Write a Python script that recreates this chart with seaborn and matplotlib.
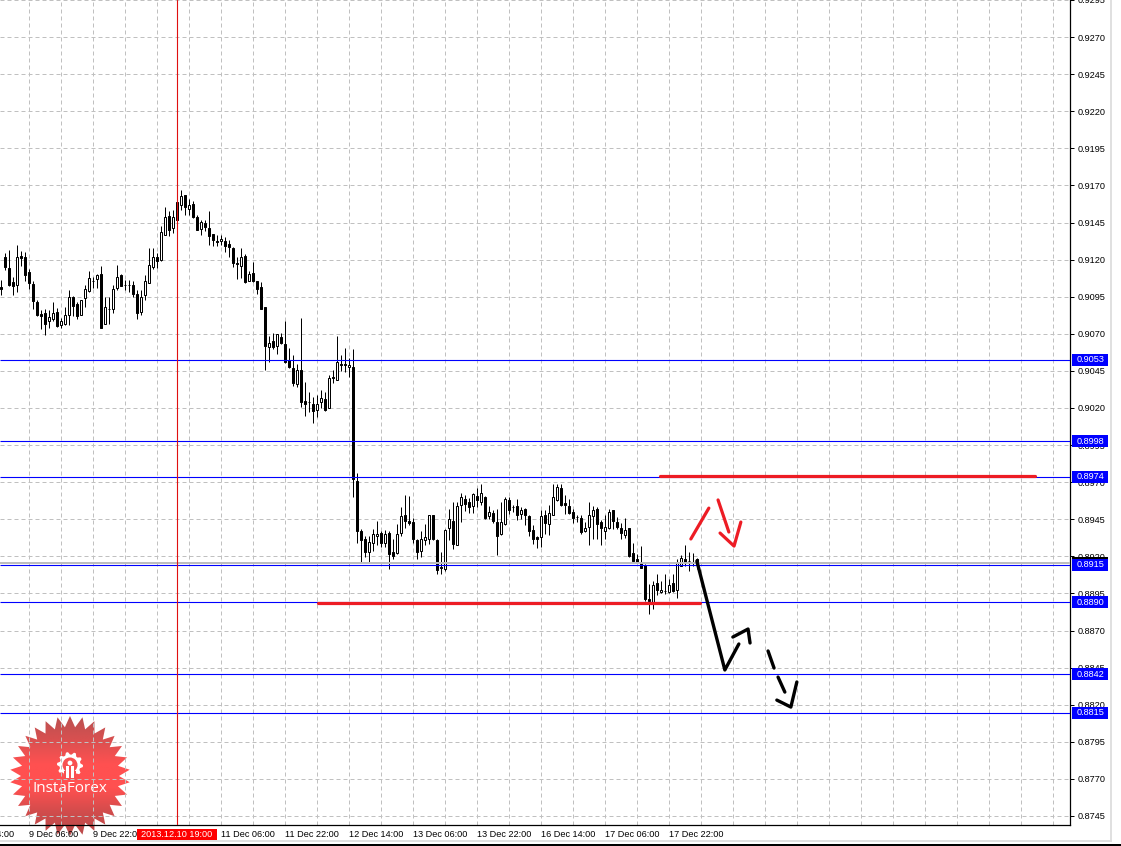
import numpy as np
import pandas as pd
import seaborn as sns
import matplotlib.pyplot as plt
from matplotlib.colors import LinearSegmentedColormap
from matplotlib.patches import Polygon, Circle, Rectangle

# hourly candles, prices in points (1e-5)
highs = [91064, 91244, 91266, 91082, 91296, 91257, 91250, 91134, 91057, 90929, 90861, 90868, 90861, 90913, 90873,
         90805, 90884, 90994, 90954, 90913, 90929, 91026, 91120, 91086, 91102, 91154, 90947, 90951, 91030, 91161,
         91102, 91064, 91064, 91059, 90996, 90994, 91098, 91278, 91278, 91244, 91424, 91554, 91530, 91532, 91593,
         91667, 91638, 91608, 91597, 91503, 91469, 91469, 91525, 91372, 91368, 91368, 91350, 91334, 91284, 91221,
         91278, 91237, 91120, 91183, 91055, 91048, 90884, 90684, 90704, 90702, 90704, 90783, 90603, 90558, 90494,
         90805, 90373, 90306, 90276, 90288, 90324, 90310, 90423, 90459, 90684, 90558, 90603, 90540, 90600, 89764,
         89381, 89340, 89336, 89386, 89437, 89368, 89375, 89370, 89318, 89419, 89532, 89611, 89606, 89460, 89318,
         89374, 89417, 89478, 89478, 89318, 89228, 89383, 89521, 89566, 89566, 89626, 89611, 89593, 89629, 89662,
         89685, 89606, 89539, 89509, 89516, 89566, 89597, 89599, 89543, 89588, 89532, 89525, 89476, 89408, 89340,
         89509, 89509, 89543, 89685, 89689, 89685, 89611, 89588, 89521, 89476, 89476, 89431, 89566, 89536, 89532,
         89442, 89476, 89516, 89514, 89464, 89426, 89458, 89392, 89291, 89217, 89269, 89145, 89014, 89037, 89082,
         89037, 89082, 89048, 89082, 89183, 89206, 89278, 89228, 89224, 89188]
lows = [90962, 91131, 91019, 90962, 90981, 91158, 91057, 91003, 90868, 90823, 90733, 90692, 90738, 90787, 90744,
        90738, 90756, 90760, 90823, 90800, 90828, 90879, 90981, 91008, 91008, 90738, 90767, 90767, 90839, 90996,
        91019, 90996, 90985, 90945, 90800, 90828, 90929, 91041, 91138, 91143, 91192, 91363, 91361, 91379, 91469,
        91536, 91503, 91503, 91482, 91401, 91368, 91390, 91296, 91291, 91291, 91298, 91251, 91217, 91147, 91071,
        91075, 91044, 91053, 91048, 90967, 90868, 90456, 90508, 90598, 90567, 90630, 90506, 90472, 90351, 90339,
        90207, 90146, 90175, 90101, 90139, 90198, 90180, 90198, 90371, 90389, 90450, 90441, 90411, 89597, 89291,
        89160, 89197, 89160, 89233, 89273, 89264, 89264, 89116, 89183, 89217, 89340, 89390, 89408, 89291, 89179,
        89194, 89273, 89284, 89309, 89082, 89082, 89102, 89307, 89251, 89273, 89431, 89507, 89489, 89494, 89534,
        89543, 89453, 89453, 89426, 89206, 89345, 89413, 89487, 89498, 89446, 89453, 89408, 89340, 89284, 89255,
        89262, 89352, 89347, 89476, 89572, 89538, 89487, 89487, 89426, 89431, 89352, 89363, 89273, 89314, 89318,
        89273, 89318, 89386, 89386, 89386, 89318, 89323, 89197, 89160, 89156, 89120, 88902, 88814, 88846, 88936,
        88954, 88947, 88954, 88958, 88922, 89134, 89138, 89098, 89138, 89116]
opens = [91014, 91215, 91142, 91048, 91030, 91224, 91217, 91116, 91035, 90913, 90832, 90843, 90783, 90803, 90850,
         90760, 90767, 90828, 90951, 90904, 90830, 90942, 90990, 91059, 91071, 91102, 90769, 90870, 90864, 91012,
         91093, 91032, 91030, 91028, 90965, 90848, 90963, 91044, 91149, 91219, 91199, 91368, 91491, 91410, 91586,
         91570, 91633, 91543, 91572, 91487, 91408, 91444, 91413, 91370, 91325, 91323, 91325, 91305, 91278, 91174,
         91158, 91224, 91059, 91113, 91053, 91014, 90884, 90612, 90654, 90621, 90681, 90634, 90522, 90472, 90362,
         90459, 90249, 90243, 90229, 90189, 90240, 90263, 90202, 90411, 90389, 90499, 90499, 90477, 90477, 89707,
         89372, 89316, 89228, 89289, 89336, 89354, 89293, 89359, 89228, 89221, 89356, 89478, 89437, 89431, 89311,
         89233, 89309, 89316, 89476, 89311, 89129, 89116, 89390, 89437, 89275, 89543, 89588, 89566, 89539, 89606,
         89563, 89599, 89471, 89494, 89433, 89350, 89417, 89579, 89532, 89539, 89487, 89521, 89471, 89377, 89327,
         89329, 89480, 89417, 89478, 89581, 89662, 89559, 89539, 89500, 89466, 89460, 89370, 89395, 89469, 89521,
         89433, 89374, 89390, 89512, 89431, 89390, 89347, 89390, 89224, 89183, 89160, 89143, 88911, 88891, 89021,
         88958, 88965, 88958, 89019, 88976, 89138, 89183, 89169, 89165, 89183]
closes = [91005, 91149, 91030, 91023, 91221, 91210, 91098, 91041, 90922, 90828, 90823, 90767, 90810, 90843, 90753,
          90783, 90825, 90947, 90888, 90823, 90929, 91005, 91073, 91057, 91093, 90738, 90884, 90868, 91005, 91080,
          91023, 91028, 91028, 90969, 90841, 90951, 91053, 91161, 91215, 91192, 91383, 91485, 91401, 91485, 91469,
          91626, 91552, 91566, 91487, 91401, 91451, 91422, 91361, 91332, 91316, 91336, 91291, 91282, 91179, 91172,
          91215, 91048, 91100, 91055, 91003, 90868, 90618, 90641, 90612, 90697, 90636, 90510, 90477, 90369, 90454,
          90240, 90227, 90240, 90180, 90229, 90270, 90186, 90405, 90402, 90513, 90490, 90492, 90492, 89719, 89374,
          89307, 89232, 89296, 89350, 89350, 89287, 89350, 89219, 89203, 89350, 89473, 89435, 89426, 89314, 89226,
          89316, 89327, 89478, 89314, 89106, 89118, 89377, 89451, 89286, 89539, 89599, 89554, 89530, 89620, 89577,
          89624, 89455, 89498, 89435, 89334, 89433, 89586, 89514, 89530, 89476, 89512, 89476, 89370, 89314, 89314,
          89471, 89426, 89491, 89599, 89667, 89543, 89543, 89491, 89457, 89464, 89363, 89388, 89476, 89512, 89417,
          89390, 89395, 89498, 89435, 89395, 89354, 89377, 89201, 89167, 89160, 89124, 88913, 88900, 89005, 88976,
          88976, 88963, 89005, 88965, 89161, 89188, 89161, 89167, 89161, 89165]

# horizontal levels and their price boxes
level_prices = [0.90525, 0.89977, 0.89735, 0.89142, 0.88892, 0.88405, 0.88145]
level_labels = ["0.9053", "0.8998", "0.8974", "0.8915", "0.8890", "0.8842", "0.8815"]
bid_price = 0.89155

y_labels = ["0.9295", "0.9270", "0.9245", "0.9220", "0.9195", "0.9170", "0.9145", "0.9120", "0.9095", "0.9070",
            "0.9045", "0.9020", "0.8995", "0.8970", "0.8945", "0.8920", "0.8895", "0.8870", "0.8845", "0.8820",
            "0.8795", "0.8770", "0.8745"]
x_labels = ["9 Dec 06:00", "9 Dec 22:00", "", "11 Dec 06:00", "11 Dec 22:00", "12 Dec 14:00", "13 Dec 06:00",
            "13 Dec 22:00", "16 Dec 14:00", "17 Dec 06:00", "17 Dec 22:00"]
cross_bar = 44
cross_label = "2013.12.10 19:00"

# drawn strokes: (bar, points)
red_strokes = [
    ([172.4, 176.9], [89317, 89525]),
    ([179.2, 181.9], [89580, 89364]),
    ([179.7, 183.2, 184.9], [89357, 89269, 89431]),
    ([79.2, 174.7], [88885, 88885]),
    ([164.7, 258.4], [89741, 89741]),
]
black_strokes = [
    ([173.9, 180.9, 184.4], [89168, 88434, 88609]),
    ([182.9, 186.7, 187.2], [88656, 88710, 88616]),
    ([191.7, 193.2], [88562, 88447]),
    ([194.2, 195.9], [88386, 88285]),
    ([193.9, 197.4, 198.9], [88231, 88184, 88353]),
]

sns.set_theme(style="white")
plt.rcParams['font.family'] = ['Liberation Sans', 'DejaVu Sans']
LAB = 6.6

df = pd.DataFrame({'high': highs, 'low': lows, 'open': opens, 'close': closes}) / 1e5
df['bar'] = df.index
df['up'] = df['close'] > df['open']

W, H = 1121, 846
fig = plt.figure(figsize=(W / 100, H / 100), dpi=100, facecolor='white')

# background layer in pixels: window edges and the logo
bg = fig.add_axes([0, 0, 1, 1], zorder=0)
bg.set_xlim(0, W)
bg.set_ylim(H, 0)
bg.axis('off')
bg.add_patch(Rectangle((1110, 0), 2, 841, color='#e0e0e0', lw=0))
bg.add_patch(Rectangle((0, 840), 1112, 2, color='#e0e0e0', lw=0))
bg.add_patch(Rectangle((0, 844), W, 2, color='black', lw=0))

cx, cy = 70, 776
n_spikes = 30
ang = np.linspace(0, 2 * np.pi, 2 * n_spikes, endpoint=False) - np.pi / 2
rad = np.where(np.arange(2 * n_spikes) % 2 == 0, 60, 49)
star = Polygon(np.c_[cx + rad * np.cos(ang), cy + rad * np.sin(ang)], closed=True, fc='none', ec='none')
bg.add_patch(star)
cmap = LinearSegmentedColormap.from_list('badge', ['#b85050', '#d85050', '#ff5050', '#ff5050', '#d04c4c', '#b84a4a'])
grad = np.linspace(0, 1, 120).reshape(-1, 1)
im = bg.imshow(grad, cmap=cmap, extent=(cx - 62, cx + 62, cy + 62, cy - 62), aspect='auto', zorder=1)
im.set_clip_path(star)
bg.set_xlim(0, W)
bg.set_ylim(H, 0)

# gear icon
gx, gy = 70, 765
tooth = np.linspace(0, 2 * np.pi, 40, endpoint=False)
tooth_r = np.where(np.arange(40) % 4 < 2, 13, 10.5)
bg.add_patch(Polygon(np.c_[gx + tooth_r * np.cos(tooth), gy + tooth_r * np.sin(tooth)], fc='white', ec='none', zorder=2))
bg.add_patch(Circle((gx, gy), 7.5, fc='#f85050', ec='none', zorder=3))
bg.add_patch(Rectangle((gx - 6, gy + 6), 12, 9, fc='#f85050', ec='none', zorder=3))
bg.add_patch(Circle((gx, gy - 2), 2.4, fc='white', ec='none', zorder=4))
bg.add_patch(Rectangle((gx - 4, gy + 1), 2.6, 12, fc='white', ec='none', zorder=4))
bg.add_patch(Rectangle((gx + 1.4, gy + 1), 2.6, 12, fc='white', ec='none', zorder=4))
bg.text(cx, 789, "InstaForex", color='white', fontsize=11, family='Open Sans', ha='center', va='center', zorder=5)

# chart
ax = fig.add_axes([0, 1 - 825 / H, 1070 / W, 825 / H], zorder=1)
ax.patch.set_visible(False)
ax.set_xlim(-0.3125, 267.1875)
ax.set_ylim(0.87389, 0.92949)
ax.set_axisbelow(True)

major_x = list(range(7, 168, 16))
minor_x = [b for b in range(7, 267, 8) if b not in major_x]
ax.set_xticks(major_x)
ax.set_xticklabels(x_labels, ha='left')
ax.set_xticks(minor_x, minor=True)
ax.set_yticks([float(v) for v in y_labels])
ax.set_yticklabels(y_labels)
ax.yaxis.tick_right()
ax.tick_params(axis='x', which='major', length=3, width=0.72, color='black', labelsize=LAB, pad=0.8, labelcolor='black')
ax.tick_params(axis='x', which='minor', length=0)
ax.tick_params(axis='y', length=3, width=0.72, color='black', labelsize=LAB, pad=2.2, labelcolor='black')
ax.grid(True, which='both', color='#c0c0c0', lw=0.72, linestyle=(0, (4, 3)))
for side in ['top', 'left']:
    ax.spines[side].set_visible(False)
for side in ['right', 'bottom']:
    ax.spines[side].set_color('black')
    ax.spines[side].set_linewidth(0.9)

x_tf = ax.get_xaxis_transform()
ax.text(-9, -4.5 / 825, "8 Dec 14:00", transform=x_tf, fontsize=LAB, color='black', ha='left', va='top', clip_on=False)

# candles
ax.vlines(df['bar'], df['low'], df['high'], color='black', lw=0.72, zorder=3)
body_low = df[['open', 'close']].min(axis=1)
body_h = (df['close'] - df['open']).abs()
ax.bar(df['bar'], body_h, bottom=body_low, width=0.5, color=np.where(df['up'], 'white', 'black').tolist(),
       edgecolor='black', linewidth=0.72, zorder=3.2)

# levels
ax.axhline(bid_price, color='#bdbdbd', lw=1.4, zorder=3.5)
ax.hlines(level_prices, -0.3125, 267.1875, color='#0000ff', lw=0.8, zorder=4)
ax.axvline(cross_bar, color='#e01010', lw=0.8, zorder=4)

y_tf = ax.get_yaxis_transform()
box_h = 12 / 14838
ax.add_patch(Rectangle((1.0015, bid_price - box_h / 2), 0.0336, box_h, transform=y_tf, fc='black', ec='none',
                       clip_on=False, zorder=6))
for p, lab in zip(level_prices, level_labels):
    ax.add_patch(Rectangle((1.0015, p - box_h / 2), 0.0336, box_h, transform=y_tf, fc='#0000ff', ec='none',
                           clip_on=False, zorder=7))
    ax.text(1.0058, p, lab, transform=y_tf, color='white', fontsize=LAB, va='center', ha='left',
            zorder=8, clip_on=False)

ax.add_patch(Rectangle((cross_bar - 10.1, -15 / 825), 20, 11 / 825, transform=x_tf, fc='#ff0000', ec='none',
                       clip_on=False, zorder=7))
ax.text(cross_bar - 9, -4.5 / 825, cross_label, transform=x_tf, color='white', fontsize=LAB, ha='left', va='top',
        zorder=8, clip_on=False)

# hand drawn strokes
for xs, ys in red_strokes:
    sns.lineplot(x=xs, y=np.array(ys) / 1e5, sort=False, estimator=None, color='#ed1c24', lw=2.3, ax=ax, zorder=5)
for xs, ys in black_strokes:
    sns.lineplot(x=xs, y=np.array(ys) / 1e5, sort=False, estimator=None, color='black', lw=2.4, ax=ax, zorder=5)

ax.set_xlabel('')
ax.set_ylabel('')
fig.savefig('out.png', dpi=100)
